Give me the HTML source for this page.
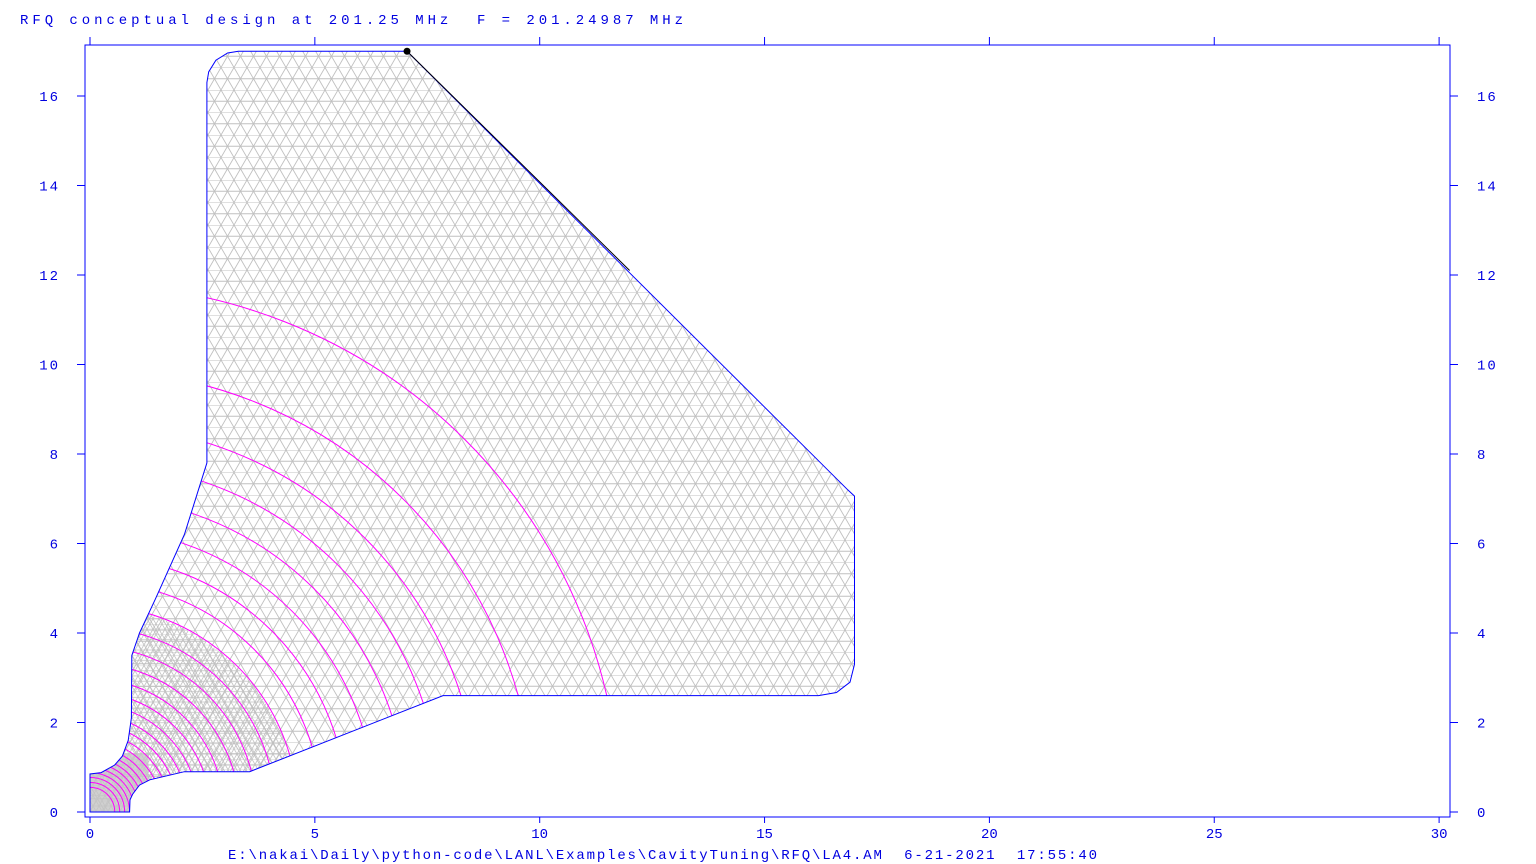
<!DOCTYPE html>
<html><head><meta charset="utf-8"><style>
html,body{margin:0;padding:0;background:#fff;}
svg{display:block;}
text{font-family:"Liberation Mono",monospace;font-size:14px;fill:#0000e0;white-space:pre;}
</style></head><body>
<svg id="chart" width="1536" height="864" viewBox="0 0 1536 864" xmlns="http://www.w3.org/2000/svg">
<defs>
<pattern id="mesh" patternUnits="userSpaceOnUse" width="13" height="22.5">
<path d="M0 0H13M0 11.25H13M0 0L6.5 11.25L13 0M6.5 11.25L0 22.5M6.5 11.25L13 22.5" stroke="#c0c0c0" stroke-width="0.9" fill="none"/>
</pattern>
<pattern id="meshDense" patternUnits="userSpaceOnUse" width="6" height="10.4">
<path d="M0 0H6M0 5.2H6M0 0L3 5.2L6 0M3 5.2L0 10.4M3 5.2L6 10.4" stroke="#c0c0c0" stroke-width="0.8" fill="none"/>
</pattern>
<clipPath id="shapeClip"><path id="clipPathShape"/></clipPath>
</defs>
<text x="20" y="24" textLength="663" lengthAdjust="spacing" xml:space="preserve">RFQ conceptual design at 201.25 MHz  F = 201.24987 MHz</text>
<text x="228" y="859" textLength="869" lengthAdjust="spacing" xml:space="preserve">E:\nakai\Daily\python-code\LANL\Examples\CavityTuning\RFQ\LA4.AM  6-21-2021  17:55:40</text>
<g id="plot"></g>
</svg>
<script>
const xTicks = [0, 5, 10, 15, 20, 25, 30];
const yTicks = [0, 2, 4, 6, 8, 10, 12, 14, 16];
const outlineX = [0, 0, 0.25, 0.55, 0.72, 0.85, 0.92, 0.93, 1.1, 1.45, 2.1, 2.6, 2.6, 2.64, 2.8, 3.06, 3.3, 7.05, 16.85, 17.0, 17.0, 16.9, 16.6, 16.2, 7.85, 3.55, 2.1, 1.33, 1.1, 0.95, 0.89, 0.88];
const outlineY = [0, 0.85, 0.88, 1.05, 1.25, 1.6, 2.1, 3.5, 4.0, 4.75, 6.2, 7.8, 16.3, 16.54, 16.8, 16.96, 17.0, 17.0, 7.2, 7.06, 3.3, 2.9, 2.67, 2.6, 2.6, 0.9, 0.9, 0.72, 0.6, 0.4, 0.27, 0];
const contourRadii = [11.78, 9.87, 8.65, 7.8, 7.05, 6.35, 5.72, 5.15, 4.62, 4.13, 3.7, 3.32, 2.98, 2.68, 2.42, 2.18, 1.97, 1.78, 1.61, 1.46, 1.33, 1.21, 1.1, 0.99, 0.88, 0.77, 0.66, 0.55];
const markerPoint = [7.05, 17.0];

const NS = "http://www.w3.org/2000/svg";
const X0 = 90, XS = 44.97, Y0 = 812, YS = 44.75;
const sx = v => X0 + v * XS;
const sy = v => Y0 - v * YS;
const plot = document.getElementById('plot');
function mk(tag, attrs, parent) {
  const e = document.createElementNS(NS, tag);
  for (const k in attrs) e.setAttribute(k, attrs[k]);
  (parent || plot).appendChild(e);
  return e;
}
const frame = mk('rect', {x: 85, y: 45, width: 1365, height: 772, fill: 'none', stroke: '#0000ff', 'stroke-width': 1});



let d = '';
outlineX.forEach((x, i) => { d += (i ? 'L' : 'M') + sx(x).toFixed(1) + ' ' + sy(outlineY[i]).toFixed(1); });
d += 'Z';
document.getElementById('clipPathShape').setAttribute('d', d);
const fill = mk('path', {d: d, fill: 'url(#mesh)', stroke: 'none'});


const dg = mk('g', {'clip-path': 'url(#shapeClip)'});


const dense = mk('path', {d: `M${sx(0)} ${sy(0)} L${sx(0)} ${sy(4.6)} A${4.6*XS} ${4.6*YS} 0 0 1 ${sx(4.6)} ${sy(0)} Z`, fill: 'url(#meshDense)'}, dg);


const dense2 = mk('rect', {x: sx(0), y: sy(1.3), width: sx(1.3) - sx(0), height: sy(0) - sy(1.3), fill: '#c4c4c4', opacity: 0.8}, dg);



const cg = mk('g', {'clip-path': 'url(#shapeClip)'});


contourRadii.forEach(r => {
  const rx = r * XS, ry = r * YS;
  const c = mk('path', {d: `M${sx(0)} ${sy(r)} A${rx} ${ry} 0 0 1 ${sx(r)} ${sy(0)}`, fill: 'none', stroke: '#ff00ff', 'stroke-width': 1}, cg);
  
  
});
const ol = mk('path', {d: d, fill: 'none', stroke: '#0000ff', 'stroke-width': 1});


const diag = mk('line', {x1: sx(7.05), y1: sy(17), x2: sx(12), y2: sy(12.1), stroke: '#000', 'stroke-width': 1});


const dot = mk('circle', {cx: sx(markerPoint[0]), cy: sy(markerPoint[1]), r: 3.5, fill: '#000'});



xTicks.forEach(t => {
  const x = sx(t);
  const a = mk('line', {x1: x, y1: 817, x2: x, y2: 823, stroke: '#0000ff'});
  
  
  const b = mk('line', {x1: x, y1: 37, x2: x, y2: 45, stroke: '#0000ff'});
  
  
  const l = mk('text', {x: x, y: 838, 'text-anchor': 'middle'});
  l.textContent = t;
  
  
});
yTicks.forEach(t => {
  const y = sy(t);
  const a = mk('line', {x1: 77, y1: y, x2: 85, y2: y, stroke: '#0000ff'});
  
  
  const b = mk('line', {x1: 1450, y1: y, x2: 1458, y2: y, stroke: '#0000ff'});
  
  
  const l = mk('text', {x: 60, y: y + 5, 'text-anchor': 'end', 'letter-spacing': 2});
  l.textContent = t;
  
  
  const r = mk('text', {x: 1477, y: y + 5, 'letter-spacing': 2});
  r.textContent = t;
  
  
});
</script>
</body></html>
